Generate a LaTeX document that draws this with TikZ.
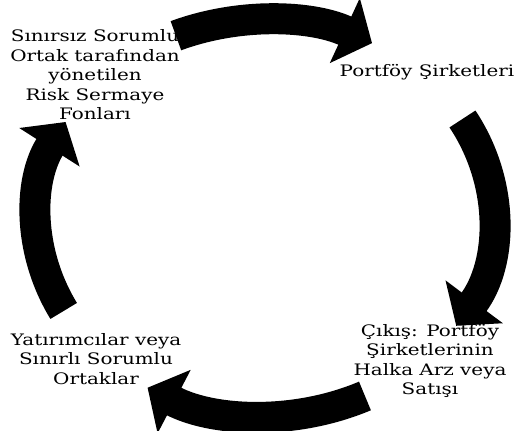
\documentclass[tikz,border=0pt]{standalone}
\usepackage{fontspec}
\setmainfont{DejaVu Serif}[FakeStretch=1.26]
\usetikzlibrary{arrows.meta,positioning,calc}
\tikzset{
  stage/.style={align=center, font=\fontsize{9}{11.1}\selectfont, inner sep=0pt},
  cyclearrow/.style={-{Triangle[length=0.6cm, width=1.4cm]}, line width=0.62cm, color=black},
}

\begin{document}
\begin{tikzpicture}[x=0.02cm,y=0.02cm]
  \useasboundingbox (0,0) rectangle (515,431);
  \coordinate (ctr) at (265,213);
  % the four stages
  \node[stage] (fund) at (95,356) {Sınırsız Sorumlu\\Ortak tarafından\\yönetilen\\Risk Sermaye\\Fonları};
  \node[stage] (portco) at (427,359) {Portföy Şirketleri};
  \node[stage] (exit) at (430,70) {Çıkış: Portföy\\Şirketlerinin\\Halka Arz veya\\Satışı};
  \node[stage] (lps) at (96,72) {Yatırımcılar veya\\Sınırlı Sorumlu\\Ortaklar};
  % cycle arrows on an ellipse round ctr
  \foreach \a/\b [count=\i] in {113/62, 30/-33, -64/-121, 208/151} {
    \coordinate (s\i) at ($(ctr)+(\a:228 and 198)$);
    \draw[cyclearrow] (s\i) arc[start angle=\a, end angle=\b, x radius=228, y radius=198];
  }
\end{tikzpicture}
\end{document}
